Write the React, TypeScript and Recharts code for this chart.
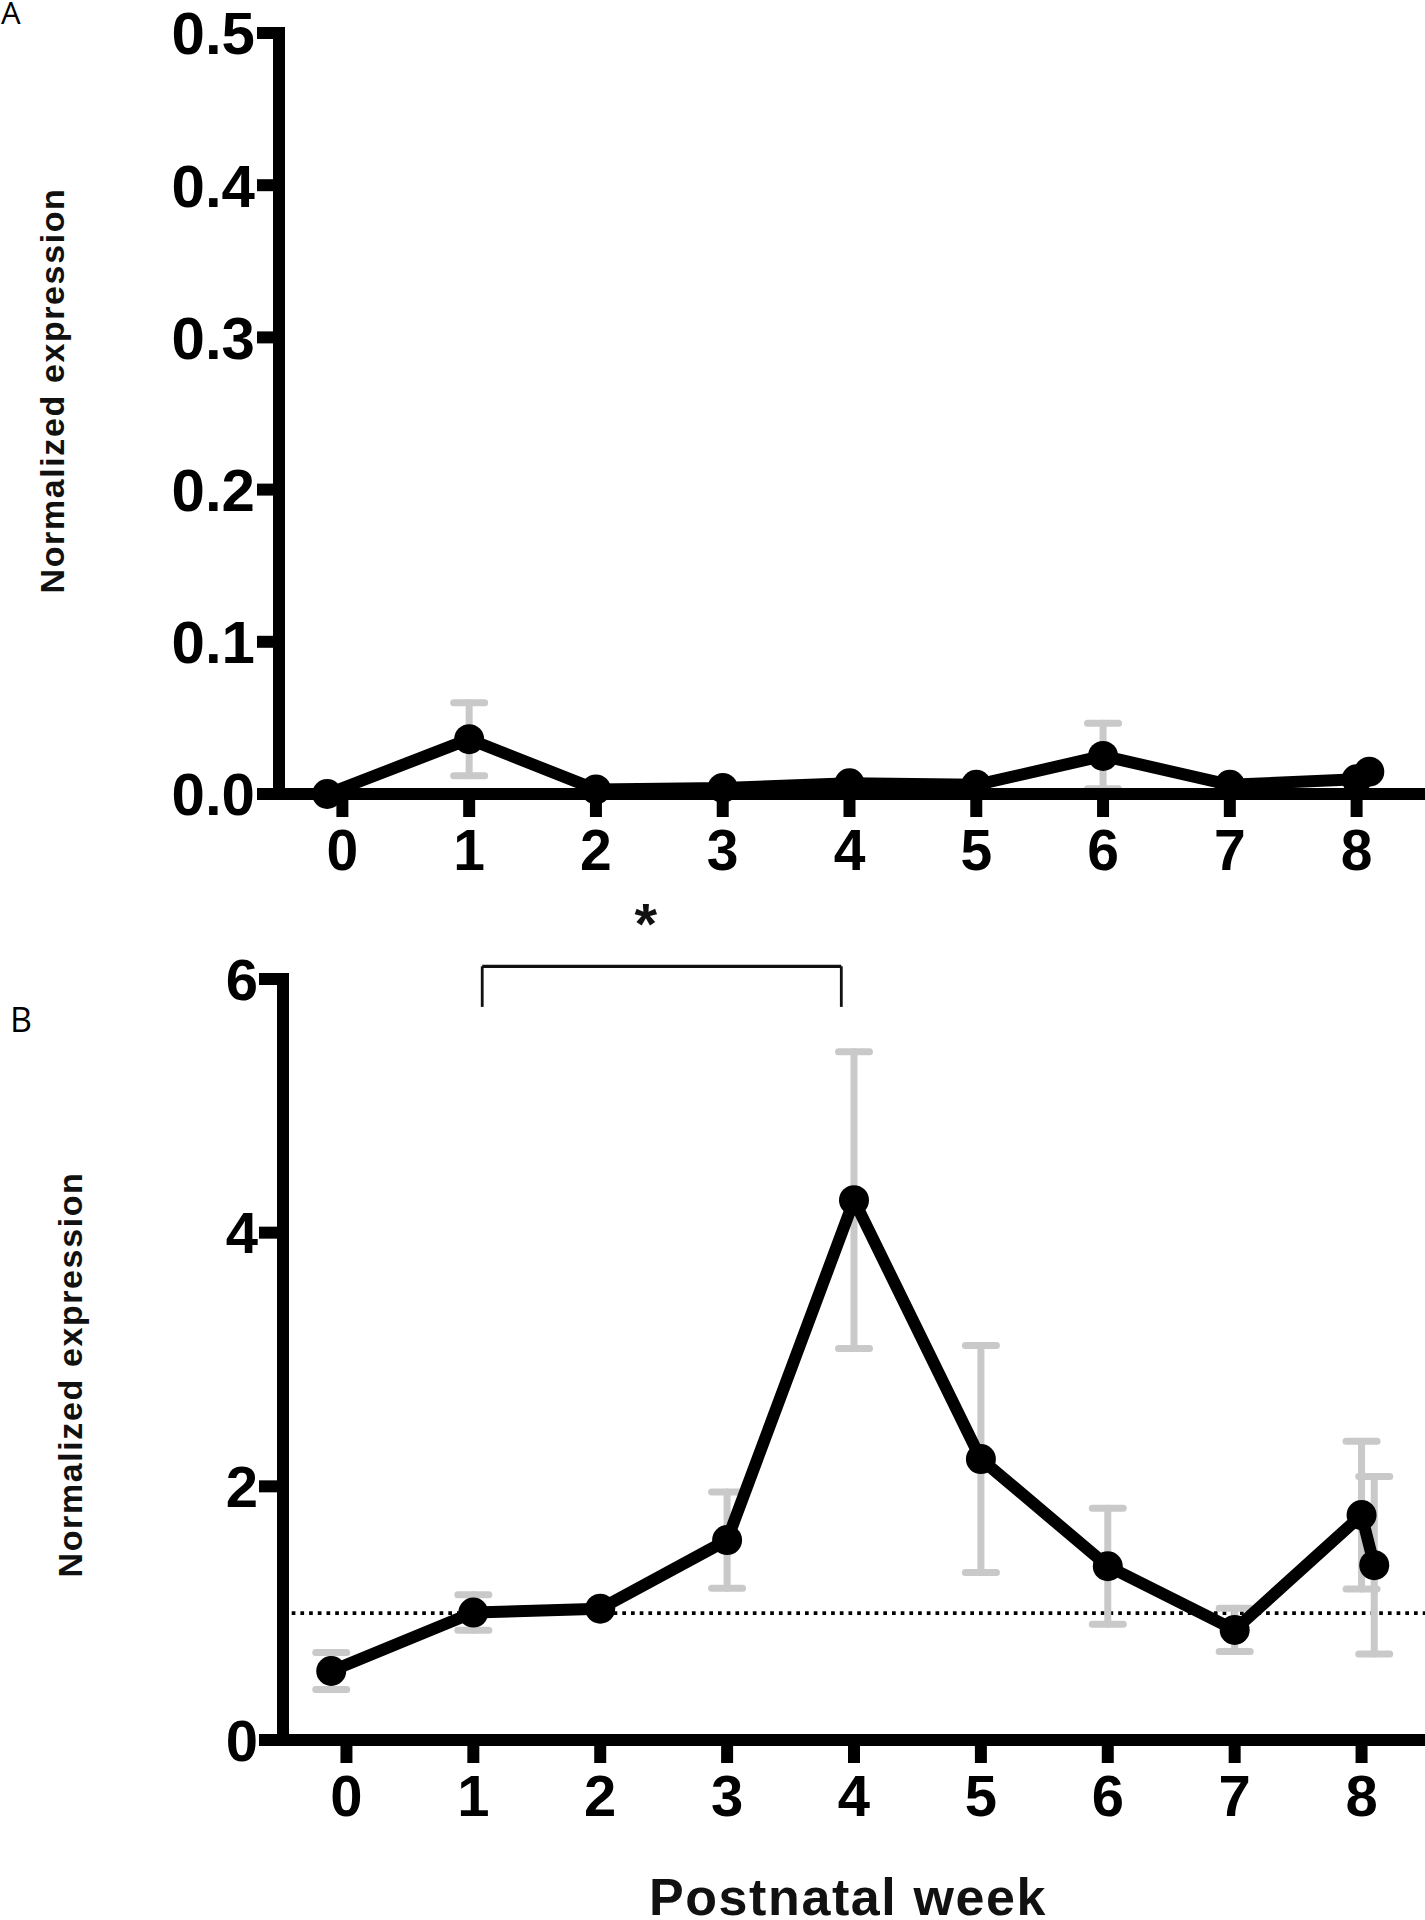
import React from "react";
import {
  LineChart,
  Line,
  XAxis,
  YAxis,
  ErrorBar,
  ReferenceLine,
  ReferenceDot,
  Label,
} from "recharts";

// postnatal week of each group (week 0 and the second week-8 group sit slightly off the tick)
const weeks = [-0.12, 1, 2, 3, 4, 5, 6, 7, 8, 8.1];

// panel A
const meanA = [0, 0.036, 0.003, 0.004, 0.007, 0.006, 0.025, 0.006, 0.0097, 0.0147];
const semA = [0, 0.024, 0, 0, 0, 0, 0.0215, 0, 0, 0];

// panel B
const meanB = [0.544, 1.005, 1.035, 1.576, 4.256, 2.215, 1.37, 0.868, 1.773, 1.378];
const semB = [0.145, 0.14, 0, 0.38, 1.17, 0.895, 0.458, 0.17, 0.583, 0.7];

const weekTicks = [0, 1, 2, 3, 4, 5, 6, 7, 8];
const ticksA = [0, 0.1, 0.2, 0.3, 0.4, 0.5];
const ticksB = [0, 2, 4, 6];
const baselineB = 1;

// significance bracket week 1 vs week 4
const bracketX = [1.07, 3.9];
const bracketY = [5.78, 6.1];
const starAt = [2.36, 6.44];

const dataA = weeks.map((w, i) => ({ week: w, mean: meanA[i], sem: semA[i] }));
const dataB = weeks.map((w, i) => ({ week: w, mean: meanB[i], sem: semB[i] }));

const sans = '"Liberation Sans", Arial, Helvetica, sans-serif';
const tickFont = { fontFamily: sans, fontWeight: 700, fill: "#000" };
const axisStroke = { stroke: "#000", strokeWidth: 12, strokeLinecap: "square" as const };
const tickStroke = { stroke: "#000", strokeWidth: 12 };
const titleStyle = { fontFamily: sans, fontWeight: 700, fill: "#111" };

export default function App() {
  return (
    <div
      style={{
        position: "absolute",
        left: 0,
        top: 0,
        width: 1425,
        height: 1920,
        background: "#fff",
        overflow: "hidden",
      }}
    >
      {/* Panel B */}
      <div style={{ position: "absolute", left: 0, top: 880 }}>
        <LineChart
          width={1425}
          height={1040}
          data={dataB}
          margin={{ top: 99, right: 0, bottom: 0, left: 0 }}
        >
          <XAxis
            dataKey="week"
            type="number"
            domain={[-0.5, 8.5]}
            ticks={weekTicks}
            interval={0}
            height={180}
            axisLine={axisStroke}
            tickLine={tickStroke}
            tickSize={23}
            tickMargin={12}
            tick={{ ...tickFont, fontSize: 58 }}
          >
            <Label
              value="Postnatal week"
              position="insideBottom"
              offset={5}
              dx={-6}
              fontSize={52}
              style={{ ...titleStyle, letterSpacing: 1.6 }}
            />
          </XAxis>
          <YAxis
            type="number"
            domain={[0, 6]}
            ticks={ticksB}
            interval={0}
            width={283}
            axisLine={axisStroke}
            tickLine={tickStroke}
            tickSize={24}
            tickMargin={1}
            tick={{ ...tickFont, fontSize: 58 }}
          >
            <Label
              value="Normalized expression"
              angle={-90}
              position="center"
              dx={-72}
              dy={15}
              fontSize={34}
              style={{ ...titleStyle, letterSpacing: 1.6 }}
            />
          </YAxis>
          <ReferenceLine
            y={baselineB}
            stroke="#000"
            strokeWidth={3.7}
            strokeDasharray="3.7 5"
          />
          <ReferenceLine
            segment={[
              { x: bracketX[0], y: bracketY[1] },
              { x: bracketX[1], y: bracketY[1] },
            ]}
            stroke="#111"
            strokeWidth={3.2}
            ifOverflow="visible"
          />
          <ReferenceLine
            segment={[
              { x: bracketX[0], y: bracketY[0] },
              { x: bracketX[0], y: bracketY[1] },
            ]}
            stroke="#111"
            strokeWidth={2.8}
            ifOverflow="visible"
          />
          <ReferenceLine
            segment={[
              { x: bracketX[1], y: bracketY[0] },
              { x: bracketX[1], y: bracketY[1] },
            ]}
            stroke="#111"
            strokeWidth={2.8}
            ifOverflow="visible"
          />
          <ReferenceDot
            x={starAt[0]}
            y={starAt[1]}
            r={0}
            fill="none"
            stroke="none"
            ifOverflow="visible"
            label={{
              value: "*",
              position: "center",
              fontSize: 58,
              fontWeight: 700,
              fontFamily: sans,
              fill: "#111",
            }}
          />
          <Line
            type="linear"
            dataKey="mean"
            stroke="#000"
            strokeWidth={12}
            strokeLinejoin="round"
            dot={{ r: 15, fill: "#000", stroke: "#000", strokeWidth: 0 }}
            activeDot={false}
            isAnimationActive={false}
          >
            <ErrorBar
              dataKey="sem"
              direction="y"
              width={15.5}
              stroke="#c9c9c9"
              strokeWidth={7}
              strokeLinecap="round"
              isAnimationActive={false}
            />
          </Line>
        </LineChart>
      </div>

      {/* Panel A */}
      <div style={{ position: "absolute", left: 0, top: 0 }}>
        <LineChart
          width={1425}
          height={900}
          data={dataA}
          margin={{ top: 33, right: 5, bottom: 0, left: 0 }}
        >
          <XAxis
            dataKey="week"
            type="number"
            domain={[-0.5, 8.5]}
            ticks={weekTicks}
            interval={0}
            height={106}
            axisLine={axisStroke}
            tickLine={tickStroke}
            tickSize={23}
            tickMargin={13}
            tick={{ ...tickFont, fontSize: 57 }}
          />
          <YAxis
            type="number"
            domain={[0, 0.5]}
            ticks={ticksA}
            interval={0}
            width={279}
            axisLine={axisStroke}
            tickLine={tickStroke}
            tickSize={22}
            tickMargin={2}
            tickFormatter={(v: number) => v.toFixed(1)}
            tick={{ ...tickFont, fontSize: 60 }}
          >
            <Label
              value="Normalized expression"
              angle={-90}
              position="center"
              dx={-88}
              dy={-23}
              fontSize={34}
              style={{ ...titleStyle, letterSpacing: 1.6 }}
            />
          </YAxis>
          <Line
            type="linear"
            dataKey="mean"
            stroke="#000"
            strokeWidth={12}
            strokeLinejoin="round"
            dot={{ r: 15, fill: "#000", stroke: "#000", strokeWidth: 0 }}
            activeDot={false}
            isAnimationActive={false}
          >
            <ErrorBar
              dataKey="sem"
              direction="y"
              width={15.5}
              stroke="#c9c9c9"
              strokeWidth={7}
              strokeLinecap="round"
              isAnimationActive={false}
            />
          </Line>
        </LineChart>
      </div>

      {/* panel letters */}
      <svg
        width={1425}
        height={1920}
        style={{ position: "absolute", left: 0, top: 0, pointerEvents: "none" }}
      >
        <text x={1} y={24} fontFamily='"Open Sans", sans-serif' fontSize={31} fill="#000">
          A
        </text>
        <text x={10} y={1032} fontFamily='"Open Sans", sans-serif' fontSize={34} fill="#000">
          B
        </text>
      </svg>
    </div>
  );
}
